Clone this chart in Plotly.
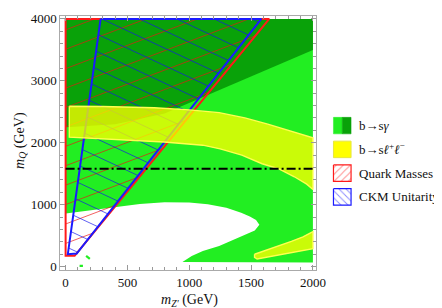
import numpy as np
import plotly.graph_objects as go

W, H = 442, 308

# ---------------- data (GeV) ----------------
# b -> s gamma allowed region (light green), with white hole at bottom
bsg_light_x = [0, 2000, 2000, 945, 1020, 1110, 1242, 1370, 1460, 1530, 1567,
               1540, 1490, 1420, 1300, 1150, 1000, 800, 600, 400, 200, 0]
bsg_light_y = [4000, 4000, 65, 75, 170, 252, 330, 446, 520, 583, 677,
               750, 810, 870, 950, 1005, 1035, 1040, 1010, 960, 905, 855]
# b -> s gamma (dark green, stronger)
bsg_dark_x = [0, 2000, 2000, 1055, 800, 400, 0]
bsg_dark_y = [4000, 4000, 3496, 2693, 2470, 2300, 2250]

# b -> s l+ l- bands (yellow)
bsll_x = [30, 300, 717, 1000, 1242, 1450, 1635, 1820, 2000,
          2000, 1950, 1850, 1721, 1589, 1425, 1250, 1110, 795, 400, 30]
bsll_y = [2590, 2585, 2565, 2530, 2485, 2400, 2300, 2190, 2080,
          1243, 1330, 1450, 1580, 1660, 1800, 1900, 1960, 2012, 2050, 2090]
bsll2_x = [1528, 1620, 1720, 1826, 1920, 2000, 2000, 1826, 1700, 1549, 1528]
bsll2_y = [199, 260, 330, 407, 480, 564, 287, 224, 180, 122, 150]

# Quark masses region (red hatched)
quark_x = [0, 0, 73, 1647]
quark_y = [4000, 173, 173, 4000]
# CKM unitarity region (blue hatched)
ckm_x = [283, 18, 90, 1583]
ckm_y = [4000, 200, 210, 4000]

# small isolated b -> s gamma specks
speck1_x, speck1_y = [166, 196], [172, 124]
speck2_x, speck2_y = [113, 140], [12, 10]

# horizontal dash-dot reference line
ref_line_y = 1580
ref_line_x = [0, 2000]

legend_names = ["b→s<i>γ</i>", "b→s<i>ℓ</i><sup>+</sup><i>ℓ</i><sup>−</sup>",
                "Quark Masses", "CKM Unitarity"]

x_ticks = [0, 500, 1000, 1500, 2000]
y_ticks = [0, 1000, 2000, 3000, 4000]

# ---------------- styles ----------------
LIGHT_G = "#22ee22"
DARK_G = "#09a209"
YEL_FILL = "rgba(255,255,0,0.76)"
YEL_LINE = "#ffff50"
RED = "#ff1a1a"
BLUE = "#1a1aff"
FONT = "Liberation Serif"

# axis geometry (pixels)
px_l, px_r, py_t, py_b = 53.5, 315.0, 3.5, 265.0
xr = [-43, 2024]
yr = [-60, 4040]
sx = (px_r - px_l) / (xr[1] - xr[0])  # px per GeV (x)
sy = (py_b - py_t) / (yr[1] - yr[0])  # px per GeV (y)


def hatch(px, py, screen_slope, screen_spacing, offset=0.0):
    """Hatch lines clipped to a convex polygon; slope/spacing given in screen px."""
    slope = screen_slope * sx / sy
    spacing = screen_spacing / sy
    pts = list(zip(px, py))
    n = len(pts)
    cs = [y - slope * x for x, y in pts]
    xs, ys = [], []
    start = np.floor(min(cs) / spacing) * spacing + offset
    for c in np.arange(start, max(cs), spacing):
        ts = []
        for i in range(n):
            ax, ay = pts[i]
            bx, by = pts[(i + 1) % n]
            det = -(by - ay) + slope * (bx - ax)
            if abs(det) < 1e-12:
                continue
            t = (-ax * (by - ay) + (bx - ax) * (ay - c)) / det
            s = ((ay - c) - slope * ax) / det
            if -1e-9 <= s <= 1 + 1e-9:
                ts.append(t)
        if len(ts) >= 2 and max(ts) - min(ts) > 1e-6:
            t0, t1 = min(ts), max(ts)
            xs += [t0, t1, None]
            ys += [c + slope * t0, c + slope * t1, None]
    return xs, ys


fig = go.Figure()

def closed(a):
    return list(a) + [a[0]]

# green regions
fig.add_trace(go.Scatter(x=closed(bsg_light_x), y=closed(bsg_light_y), fill="toself",
                         fillcolor=LIGHT_G, mode="lines", line=dict(width=0, color=LIGHT_G),
                         hoverinfo="skip", showlegend=False))
fig.add_trace(go.Scatter(x=closed(bsg_dark_x), y=closed(bsg_dark_y), fill="toself",
                         fillcolor=DARK_G, mode="lines", line=dict(width=0, color=DARK_G),
                         hoverinfo="skip", showlegend=False))
for sxp, syp in [(speck1_x, speck1_y), (speck2_x, speck2_y)]:
    fig.add_trace(go.Scatter(x=sxp, y=syp, mode="lines", line=dict(width=2.2, color=LIGHT_G),
                             hoverinfo="skip", showlegend=False))

# hatching
hx, hy = hatch(quark_x, quark_y, 0.38, 20.0, 60)
fig.add_trace(go.Scatter(x=hx, y=hy, mode="lines", line=dict(width=0.9, color="rgba(235,20,20,0.75)"),
                         hoverinfo="skip", showlegend=False))
hx, hy = hatch(ckm_x, ckm_y, -0.47, 18.0, 40)
fig.add_trace(go.Scatter(x=hx, y=hy, mode="lines", line=dict(width=0.9, color="rgba(20,20,235,0.75)"),
                         hoverinfo="skip", showlegend=False))

# outlines
fig.add_trace(go.Scatter(x=closed(quark_x), y=closed(quark_y), mode="lines",
                         line=dict(width=2, color=RED), hoverinfo="skip", showlegend=False))
fig.add_trace(go.Scatter(x=closed(ckm_x), y=closed(ckm_y), mode="lines",
                         line=dict(width=2, color=BLUE), hoverinfo="skip", showlegend=False))

# yellow bands on top
for bx, by in [(bsll_x, bsll_y), (bsll2_x, bsll2_y)]:
    fig.add_trace(go.Scatter(x=closed(bx), y=closed(by), fill="toself", fillcolor=YEL_FILL,
                             mode="lines", line=dict(width=1.4, color=YEL_LINE),
                             hoverinfo="skip", showlegend=False))

# dash-dot line
fig.add_trace(go.Scatter(x=ref_line_x, y=[ref_line_y] * len(ref_line_x), mode="lines",
                         line=dict(width=2, color="black", dash="9px,3px,2px,3px"),
                         hoverinfo="skip", showlegend=False))

# ---------------- manual legend (pixel coordinates on x2/y2) ----------------
sw_l, sw_r, sw_h = 333, 351, 17
for i, name in enumerate(legend_names):
    cy = 116 + 24.5 * i
    y0, y1 = cy - sw_h / 2, cy + sw_h / 2
    if i == 0:
        mid = (sw_l + sw_r) / 2
        for (a, b, col) in [(sw_l, mid, LIGHT_G), (mid, sw_r, DARK_G)]:
            fig.add_trace(go.Scatter(x=[a, b, b, a, a], y=[y0, y0, y1, y1, y0], fill="toself",
                                     fillcolor=col, mode="lines", line=dict(width=0.5, color=col),
                                     xaxis="x2", yaxis="y2", hoverinfo="skip", showlegend=False))
    elif i == 1:
        fig.add_trace(go.Scatter(x=[sw_l, sw_r, sw_r, sw_l, sw_l], y=[y0, y0, y1, y1, y0], fill="toself",
                                 fillcolor="#ffff00", mode="lines", line=dict(width=1, color="#e6e640"),
                                 xaxis="x2", yaxis="y2", hoverinfo="skip", showlegend=False))
    else:
        col = RED if i == 2 else BLUE
        shp = "/" if i == 2 else "\\"
        fig.add_trace(go.Scatter(x=[sw_l, sw_r, sw_r, sw_l, sw_l], y=[y0, y0, y1, y1, y0], fill="toself",
                                 fillcolor="white", mode="lines", line=dict(width=1.2, color=col),
                                 fillpattern=dict(shape=shp, fgcolor=col, bgcolor="white", size=5, solidity=0.2),
                                 xaxis="x2", yaxis="y2", hoverinfo="skip", showlegend=False))
    fig.add_annotation(x=357, y=cy, xref="x2", yref="y2", text=name, showarrow=False,
                       xanchor="left", yanchor="middle",
                       font=dict(family=FONT, size=13, color="#111"))

# axis titles
fig.add_annotation(x=12 / W, y=1 - 131 / H, xref="paper", yref="paper",
                   text="<i>m</i><sub><i>Q</i></sub> (GeV)", textangle=-90, showarrow=False,
                   xanchor="center", yanchor="middle",
                   font=dict(family=FONT, size=14, color="#111"))
fig.add_annotation(x=186 / W, y=1 - 296 / H, xref="paper", yref="paper",
                   text="<i>m</i><sub><i>Z'</i></sub> (GeV)", showarrow=False,
                   xanchor="center", yanchor="middle",
                   font=dict(family=FONT, size=14, color="#111"))

axis_common = dict(ticks="inside", tickcolor="#999", ticklen=5, showline=True, linecolor="#aaa",
                   linewidth=1, mirror="ticks", showgrid=False, zeroline=False,
                   ticklabeloverflow="allow",
                   tickfont=dict(family=FONT, size=13, color="#111"))
fig.update_layout(
    width=W, height=H, margin=dict(l=0, r=0, t=0, b=0),
    paper_bgcolor="white", plot_bgcolor="white",
    xaxis=dict(domain=[px_l / W, px_r / W], range=xr, tickvals=x_ticks, anchor="y",
               minor=dict(tick0=0, dtick=100, ticks="inside", ticklen=3, tickcolor="#999"),
               **axis_common),
    yaxis=dict(domain=[1 - py_b / H, 1 - py_t / H], range=yr, tickvals=y_ticks, anchor="x",
               minor=dict(tick0=0, dtick=200, ticks="inside", ticklen=3, tickcolor="#999"),
               **axis_common),
    xaxis2=dict(domain=[325 / W, 1], range=[325, 442], visible=False, anchor="y2", fixedrange=True),
    yaxis2=dict(domain=[0, 1], range=[308, 0], visible=False, anchor="x2", fixedrange=True),
    showlegend=False,
)

fig.write_html("out.html")
